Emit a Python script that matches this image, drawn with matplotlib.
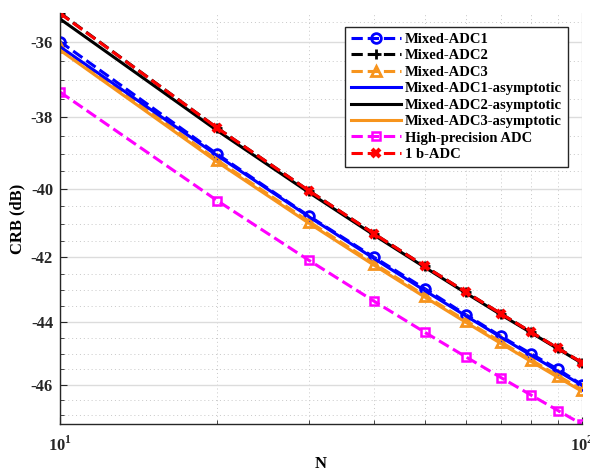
import numpy as np
import matplotlib
matplotlib.use("Agg")
import matplotlib.pyplot as plt
from matplotlib.ticker import FixedLocator, MultipleLocator, NullFormatter

plt.rcParams['font.family'] = 'serif'
plt.rcParams['font.serif'] = ['Liberation Serif', 'DejaVu Serif']
plt.rcParams['font.weight'] = 'bold'
plt.rcParams['axes.unicode_minus'] = False
plt.rcParams['mathtext.fontset'] = 'custom'
plt.rcParams['mathtext.rm'] = 'Liberation Serif:bold'
plt.rcParams['mathtext.bf'] = 'Liberation Serif:bold'

# data (CRB in dB)
N = [10, 20, 30, 40, 50, 60, 70, 80, 90, 100]
adc1 = [-36.00, -39.01, -40.78, -42.00, -42.95, -43.76, -44.44, -45.00, -45.50, -46.00]
adc2 = [-35.27, -38.29, -40.05, -41.30, -42.27, -43.06, -43.73, -44.31, -44.82, -45.28]
adc3 = [-36.15, -39.18, -40.94, -42.19, -43.16, -43.95, -44.62, -45.20, -45.71, -46.17]
adc1_asym = [-36.13, -39.05, -40.80, -42.04, -43.01, -43.80, -44.47, -45.05, -45.56, -46.02]
adc2_asym = [-35.42, -38.36, -40.10, -41.34, -42.30, -43.09, -43.76, -44.33, -44.84, -45.30]
adc3_asym = [-36.22, -39.23, -40.99, -42.24, -43.21, -44.00, -44.67, -45.25, -45.76, -46.22]
high_prec = [-37.32, -40.33, -42.09, -43.34, -44.31, -45.10, -45.77, -46.35, -46.86, -47.32]
one_bit = [-35.28, -38.29, -40.05, -41.30, -42.27, -43.06, -43.73, -44.31, -44.82, -45.28]

orange = '#F7941D'

fig = plt.figure(figsize=(5.9, 4.74), dpi=100)
ax = fig.add_axes([0.1017, 0.1049, 0.8847, 0.8677])

ms = 7
mew = 2
ax.plot(N, adc1, '--', color='blue', lw=2.2, marker='o', ms=ms, mew=mew, mfc='none', label='Mixed-ADC1')
ax.plot(N, adc2, '--', color='black', lw=2.2, marker='+', ms=ms, mew=mew, label='Mixed-ADC2')
ax.plot(N, adc3, '--', color=orange, lw=2.2, marker='^', ms=ms, mew=mew, mfc='none', label='Mixed-ADC3')
ax.plot(N, adc1_asym, '-', color='blue', lw=2.2, label='Mixed-ADC1-asymptotic')
ax.plot(N, adc2_asym, '-', color='black', lw=2.2, label='Mixed-ADC2-asymptotic')
ax.plot(N, adc3_asym, '-', color=orange, lw=2.2, label='Mixed-ADC3-asymptotic')
ax.plot(N, high_prec, '--', color='magenta', lw=2.2, marker='s', ms=6, mew=1.8, mfc='none', label='High-precision ADC')
ax.plot(N, one_bit, '--', color='red', lw=2.2, marker='x', ms=6, mew=3, label='1 b-ADC')

ax.set_xscale('log')
# CRB axis: log of |dB|, as in the reference
ax.set_yscale('function', functions=(lambda y: -np.log10(-np.asarray(y, dtype=float)),
                                     lambda t: -10 ** (-np.asarray(t, dtype=float))))
ax.set_xlim(10, 100)
ax.set_ylim(-47.32, -35.27)

ax.set_xticks([10, 100])
ax.set_xticklabels([r'$10^{1}$', r'$10^{2}$'])
ax.xaxis.set_minor_locator(FixedLocator([20, 30, 40, 50, 60, 70, 80, 90]))
ax.xaxis.set_minor_formatter(NullFormatter())
ax.yaxis.set_major_locator(FixedLocator([-46, -44, -42, -40, -38, -36]))
ax.yaxis.set_minor_locator(MultipleLocator(0.5))
ax.yaxis.set_minor_formatter(NullFormatter())

ax.grid(True, which='major', color='#dcdcdc', lw=1.0, ls='-')
ax.grid(True, which='minor', color='#c8c8c8', lw=0.7, ls=(0, (1, 3)))
ax.set_axisbelow(True)

for s in ['top', 'right']:
    ax.spines[s].set_visible(False)
for s in ['left', 'bottom']:
    ax.spines[s].set_color('#262626')
    ax.spines[s].set_linewidth(1.0)
ax.tick_params(which='both', direction='in', colors='#262626', labelsize=12)
ax.tick_params(which='major', length=5)
ax.tick_params(which='minor', length=3)
ax.tick_params(axis='x', pad=8)
ax.tick_params(axis='y', pad=5)

ax.set_xlabel('N', fontsize=12, fontweight='bold', labelpad=1)
ax.set_ylabel('CRB (dB)', fontsize=12, fontweight='bold', labelpad=4)

leg = ax.legend(loc='upper right', bbox_to_anchor=(0.973, 0.966), borderaxespad=0,
                fontsize=10.5, handlelength=3.4, handletextpad=0.3, labelspacing=0.22,
                fancybox=False, framealpha=1, edgecolor='#262626', borderpad=0.4)
leg.get_frame().set_linewidth(1.0)

fig.savefig('out.png', dpi=100)
